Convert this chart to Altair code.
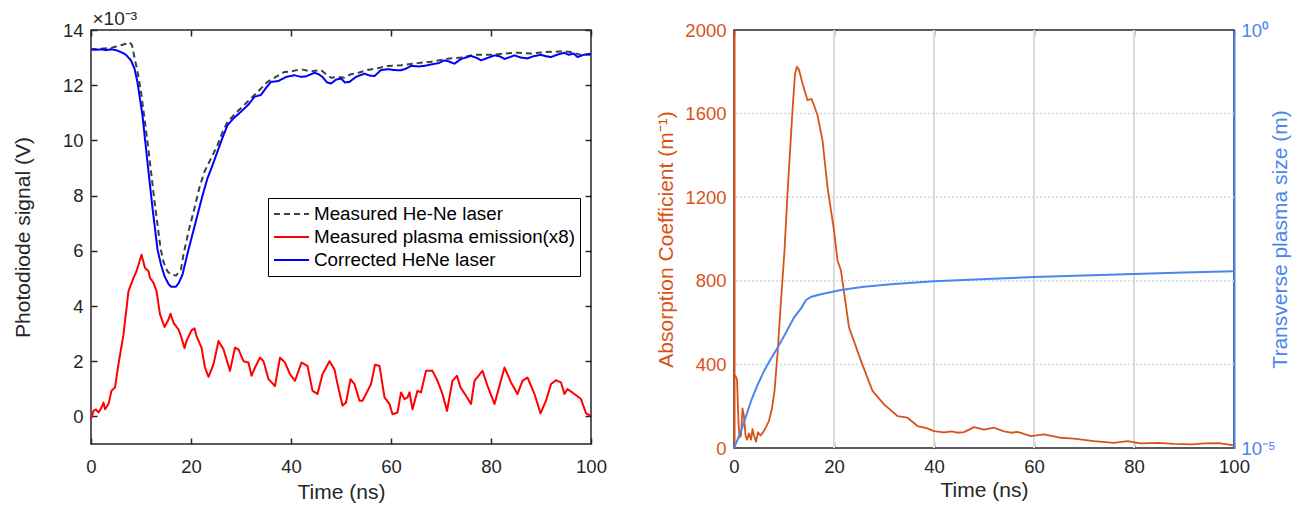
import altair as alt
import pandas as pd

# ---------------- data (left panel, values in units of 1e-3 V) ----------------
hene_t = [0, 2, 4, 5, 6, 7, 7.7, 8.2, 8.7, 9.3, 10, 11.3, 12.7, 13.9, 14.5, 15.3, 16, 17, 18, 18.5,
          19.5, 20.7, 21.7, 22.7, 24, 25.3, 26.3, 27.3, 29, 31.3, 33, 35.3, 37, 38.7, 40, 42, 44, 46,
          47, 48, 49.5, 50.7, 52, 53.5, 55.3, 57, 59.3, 62, 65.3, 68, 71.3, 74, 76.7, 80, 83, 85.3,
          88, 91, 94.7, 96, 98, 100]
hene_v = [13.3, 13.32, 13.35, 13.4, 13.45, 13.5, 13.56, 13.45, 13.0, 12.5, 11.76, 9.95, 7.79, 6.1,
          5.6, 5.25, 5.14, 5.1, 5.33, 5.87, 6.7, 7.55, 8.3, 8.87, 9.35, 9.83, 10.3, 10.67, 11.0, 11.4,
          11.7, 12.12, 12.3, 12.48, 12.5, 12.58, 12.5, 12.55, 12.4, 12.27, 12.3, 12.27, 12.4, 12.45,
          12.55, 12.6, 12.7, 12.72, 12.8, 12.85, 12.96, 13.0, 13.1, 13.1, 13.15, 13.18, 13.15, 13.2,
          13.23, 13.2, 13.1, 13.1]

corr_t = [0, 1, 2, 3, 4, 5, 6, 7, 8, 8.7, 9.3, 10.3, 11.3, 12.3, 13.3, 14, 14.7, 15.5, 16, 17, 17.6,
          18.3, 19.3, 20.3, 21.3, 22.3, 23.3, 24.3, 25.3, 26.3, 27.3, 28.5, 30, 31.5, 32.7, 34, 35,
          36, 37.5, 39, 40.7, 42, 43, 44.7, 45.5, 46.3, 47.2, 48, 49, 50, 50.8, 51.7, 53, 54.7, 55.7,
          56.7, 58, 59.5, 60.5, 62, 63, 64, 65.5, 66.7, 68, 69.5, 70.7, 71.7, 72.7, 74, 76, 77, 78,
          79.5, 80.7, 81.7, 82.7, 84.7, 86, 87.3, 88.5, 90, 91, 92, 93.5, 94.7, 95.5, 96.5, 97.3,
          98.5, 100]
corr_v = [13.3, 13.28, 13.3, 13.27, 13.3, 13.27, 13.2, 13.1, 12.9, 12.6, 12.1, 10.9, 9.2, 7.55, 6.05,
          5.5, 5.08, 4.8, 4.7, 4.7, 4.85, 5.14, 5.9, 6.6, 7.3, 8.0, 8.63, 9.1, 9.6, 10.1, 10.55,
          10.8, 11.04, 11.3, 11.58, 11.65, 11.9, 12.12, 12.15, 12.3, 12.36, 12.3, 12.32, 12.45,
          12.4, 12.3, 12.1, 12.06, 12.2, 12.24, 12.1, 12.12, 12.3, 12.42, 12.35, 12.33, 12.55,
          12.58, 12.55, 12.54, 12.6, 12.7, 12.68, 12.7, 12.75, 12.8, 12.9, 12.85, 12.78, 12.95,
          13.06, 13.0, 12.9, 13.0, 13.08, 13.05, 12.95, 13.08, 13.0, 12.97, 13.05, 13.1, 13.05,
          13.02, 13.12, 13.18, 13.1, 13.15, 13.02, 13.1, 13.14]

emis_t = [0, 0.5, 1.0, 1.5, 2.1, 2.5, 2.8, 3.5, 4.1, 4.8, 5.5, 6.5, 7.5, 8.5, 9.1, 10.1, 10.8, 11.5,
          11.8, 12.5, 13.1, 13.8, 14.7, 15.5, 15.9, 16.5, 17.5, 18.1, 18.7, 19.1, 20.1, 20.7, 21.1,
          22.1, 22.8, 23.5, 24.5, 25.5, 26.5, 27.8, 28.8, 29.5, 30.5, 31.5, 32.1, 32.8, 33.8, 34.5,
          35.5, 36.8, 37.8, 38.8, 39.8, 40.8, 42.1, 43.3, 44.3, 45.3, 46.3, 47.7, 48.7, 49.3, 50.3,
          51.0, 51.9, 52.7, 53.7, 54.3, 55.0, 56.0, 56.8, 57.7, 58.7, 59.7, 60.3, 61.3, 62.0, 62.7,
          63.3, 63.7, 64.3, 65.3, 66.0, 67.0, 68.3, 69.3, 70.3, 71.2, 72.3, 73.2, 73.9, 75.0, 76.0,
          76.7, 78.3, 79.3, 80.7, 81.7, 82.7, 84.0, 85.3, 86.3, 87.3, 88.7, 89.9, 91.0, 92.0, 93.0,
          94.0, 94.7, 95.3, 96.7, 98.0, 99.0, 100.0]
emis_v = [-0.1, 0.2, 0.25, 0.14, 0.32, 0.5, 0.26, 0.45, 0.93, 1.05, 1.9, 2.97, 4.54, 5.02, 5.26,
          5.86, 5.38, 5.26, 5.02, 4.84, 4.54, 3.7, 3.24, 3.51, 3.72, 3.39, 3.15, 2.85, 2.47, 2.73,
          3.12, 3.19, 2.91, 2.49, 1.77, 1.43, 1.89, 2.73, 2.43, 1.65, 2.49, 2.43, 2.0, 1.95, 1.47,
          1.77, 2.13, 2.0, 1.35, 1.1, 2.13, 1.95, 1.53, 1.29, 1.95, 1.83, 0.93, 0.81, 1.53, 2.0,
          1.7, 1.17, 0.39, 0.5, 1.35, 1.17, 0.57, 0.57, 0.81, 1.17, 1.87, 1.83, 0.69, 0.45, 0.08,
          0.14, 0.87, 0.63, 0.69, 0.87, 0.26, 0.93, 0.87, 1.65, 1.65, 1.29, 0.81, 0.2, 1.29, 1.47,
          1.05, 0.75, 0.45, 1.29, 1.65, 1.11, 0.45, 1.11, 1.77, 1.23, 0.81, 1.29, 1.41, 0.81, 0.11,
          0.57, 1.17, 1.31, 1.23, 0.81, 0.99, 0.81, 0.63, 0.11, 0.02]

series_names = ["Measured He-Ne laser", "Measured plasma emission(x8)", "Corrected HeNe laser"]

# ---------------- data (right panel) ----------------
abs_t = [0, 0.3, 0.6, 0.9, 1.1, 1.4, 1.7, 2.0, 2.3, 2.6, 3.0, 3.4, 3.7, 4.0, 4.4, 4.8, 5.3, 5.8,
         6.4, 7.0, 7.6, 8.1, 8.7, 9.4, 10.1, 10.7, 11.7, 12.2, 12.6, 13.0, 13.7, 14.7, 15.5, 16.0,
         16.7, 17.7, 18.7, 20.0, 20.7, 21.4, 23.0, 25.4, 27.7, 30.0, 32.7, 34.7, 36.7, 38.5, 40.0,
         42, 43.5, 44.7, 46, 48, 50, 52, 54, 55.4, 56.7, 59.4, 62, 65.4, 68, 72, 76, 78.7, 81.4,
         85, 88, 91.7, 94, 97, 100]
abs_v = [330, 345, 330, 120, 50, 60, 190, 150, 60, 40, 70, 40, 90, 60, 30, 75, 60, 75, 100, 130,
         190, 273, 450, 705, 945, 1217, 1616, 1790, 1824, 1810, 1744, 1664, 1670, 1640, 1592, 1472,
         1248, 1041, 897, 849, 577, 417, 273, 209, 153, 145, 105, 95, 81, 75, 80, 73, 76, 100, 88,
         97, 80, 73, 77, 57, 65, 49, 45, 33, 25, 33, 22, 25, 20, 17, 22, 23, 13]

size_t = [0, 0.5, 1.4, 2.4, 3.4, 4.6, 6.0, 7.3, 8.7, 10.3, 12.0, 13.4, 14.4, 15.5, 17.4, 21.4, 26,
          31.4, 40, 49.4, 60, 70, 80, 90, 100]
size_v = [1.0e-5, 1.175e-5, 1.585e-5, 2.40e-5, 3.63e-5, 5.50e-5, 8.32e-5, 1.148e-4, 1.585e-4,
          2.344e-4, 3.63e-4, 4.68e-4, 5.89e-4, 6.46e-4, 6.92e-4, 7.76e-4, 8.51e-4, 9.12e-4,
          9.89e-4, 1.047e-3, 1.109e-3, 1.161e-3, 1.202e-3, 1.259e-3, 1.300e-3]

# ---------------- ticks ----------------
time_ticks = [0, 20, 40, 60, 80, 100]
time_grid = [20, 40, 60, 80]
volt_ticks = [0, 2, 4, 6, 8, 10, 12, 14]
abs_ticks = [0, 400, 800, 1200, 1600, 2000]
abs_grid = [400, 800, 1200, 1600]
size_ticks = [1e-5, 1]

# ---------------- style ----------------
FONT = "Liberation Sans"
DARK = "#262626"
ORANGE = "#D95319"
BLUE = "#4A86EE"

left_df = pd.concat([
    pd.DataFrame({"t": hene_t, "v": hene_v, "series": series_names[0], "k": 0}),
    pd.DataFrame({"t": emis_t, "v": emis_v, "series": series_names[1], "k": 1}),
    pd.DataFrame({"t": corr_t, "v": corr_v, "series": series_names[2], "k": 2}),
], ignore_index=True)

legend_cfg = alt.Legend(
    title=None, orient="none", legendX=177, legendY=168,
    symbolType="stroke", symbolSize=1225, symbolStrokeWidth=2,
    labelFontSize=18.8, labelFont=FONT, labelColor="black", labelLimit=400, labelOffset=4,
    strokeColor="black", fillColor="white", padding=5, rowPadding=1, clipHeight=22,
)


def time_axis(label_pad, title_pad):
    return alt.Axis(orient="bottom", values=time_ticks, title="Time (ns)", offset=-6,
                    tickSize=6, tickWidth=1.5, tickColor=DARK, domain=False, grid=False,
                    labelFlush=False, labelPadding=label_pad, labelFontSize=18.5,
                    labelColor=DARK, titleFontSize=21, titleColor=DARK,
                    titleFontWeight="normal", titlePadding=title_pad)


lines = alt.Chart(left_df).mark_line(strokeWidth=2, strokeJoin="round").encode(
    x=alt.X("t:Q", scale=alt.Scale(domain=[0, 100], nice=False, zero=False),
            axis=time_axis(13, 6)),
    y=alt.Y("v:Q", scale=alt.Scale(domain=[-1, 14], nice=False, zero=False),
            axis=alt.Axis(orient="left", values=volt_ticks, title="Photodiode signal (V)",
                          offset=-6, tickSize=6, tickWidth=1.5, tickColor=DARK, domain=False,
                          grid=False, labelPadding=8, labelFontSize=18.5, labelColor=DARK,
                          titleFontSize=21, titleColor=DARK, titleFontWeight="normal",
                          titlePadding=29)),
    color=alt.Color("series:N", scale=alt.Scale(domain=series_names,
                                                range=["#404040", "#FF0000", "#0000FF"]),
                    legend=legend_cfg),
    strokeDash=alt.StrokeDash("series:N", scale=alt.Scale(domain=series_names,
                                                          range=[[6, 4], [1, 0], [1, 0]]),
                              legend=legend_cfg),
    detail="k:Q",
)

mirror = alt.Chart(left_df).mark_line(strokeOpacity=0).encode(
    x=alt.X("t:Q", axis=alt.Axis(orient="top", values=time_ticks, labels=False,
                                 title="×10⁻³", titleX=1, titleY=-12, titleAlign="left",
                                 titleAnchor="start", titleBaseline="alphabetic",
                                 titleFontSize=19, titleColor=DARK, titleFontWeight="normal",
                                 offset=-6, tickSize=6, tickWidth=1.5, tickColor=DARK,
                                 domain=False, grid=False)),
    y=alt.Y("v:Q", axis=alt.Axis(orient="right", values=volt_ticks, labels=False, title=None,
                                 offset=-6, tickSize=6, tickWidth=1.5, tickColor=DARK,
                                 domain=False, grid=False)),
    detail="k:Q",
)

left_chart = alt.layer(lines, mirror).resolve_axis(x="independent", y="independent").properties(
    width=500, height=414,
)

# ---------------- right panel ----------------
abs_df = pd.DataFrame({"t": abs_t, "a": abs_v})
size_df = pd.DataFrame({"t": size_t, "s": size_v})

abs_axis = alt.Axis(orient="left", values=abs_ticks, format="d",
                    title="Absorption Coefficient (m⁻¹)",
                    domain=True, domainColor=ORANGE, domainWidth=2, ticks=False,
                    grid=False, labelPadding=8, labelFontSize=18.5, labelColor=ORANGE,
                    titleFontSize=21, titleColor=ORANGE, titleFontWeight="normal",
                    titlePadding=8)

vgrid = alt.Chart(pd.DataFrame({"t": time_grid})).mark_rule(color="#dcdcdc", strokeWidth=2).encode(
    x=alt.X("t:Q", axis=alt.Axis(orient="top", values=time_ticks, labels=False, title=None,
                                 offset=-6, tickSize=6, tickWidth=1.5, tickColor=DARK,
                                 domain=False, grid=False)),
)

hgrid = alt.Chart(pd.DataFrame({"a": abs_grid})).mark_rule(
    color="#c9d9f6", strokeWidth=1.5, strokeDash=[2, 2]).encode(
    y=alt.Y("a:Q", axis=abs_axis),
)

orange = alt.Chart(abs_df).mark_line(color=ORANGE, strokeWidth=1.8, strokeJoin="round").encode(
    x=alt.X("t:Q", scale=alt.Scale(domain=[0, 100], nice=False, zero=False),
            axis=time_axis(9, 4)),
    y=alt.Y("a:Q", scale=alt.Scale(domain=[0, 2000], nice=False, zero=False), axis=abs_axis),
)

left_part = alt.layer(vgrid, hgrid, orange).resolve_axis(x="independent")

blue = alt.Chart(size_df).mark_line(color=BLUE, strokeWidth=2, strokeJoin="round").encode(
    x=alt.X("t:Q", axis=None),
    y=alt.Y("s:Q", scale=alt.Scale(type="log", domain=[1e-5, 1], nice=False),
            axis=alt.Axis(orient="right", values=size_ticks,
                          labelExpr="datum.value > 0.5 ? '10⁰' : '10⁻⁵'",
                          title="Transverse plasma size (m)", titleAngle=270,
                          titleBaseline="top", domain=True, domainColor=BLUE, domainWidth=2,
                          ticks=False, grid=False, labelPadding=7, labelFontSize=18.5,
                          labelColor=BLUE, titleFontSize=21, titleColor=BLUE,
                          titleFontWeight="normal", titlePadding=-6)),
)

right_chart = alt.layer(left_part, blue).resolve_scale(y="independent").properties(
    width=500, height=418)

chart = alt.hconcat(left_chart, right_chart, spacing=143, bounds="flush").properties(
    padding={"left": 3, "top": 0, "right": 5, "bottom": 3},
).configure(font=FONT).configure_view(stroke=DARK, strokeWidth=1.5)

chart.save("out.html", embed_options={"renderer": "svg", "actions": False})
